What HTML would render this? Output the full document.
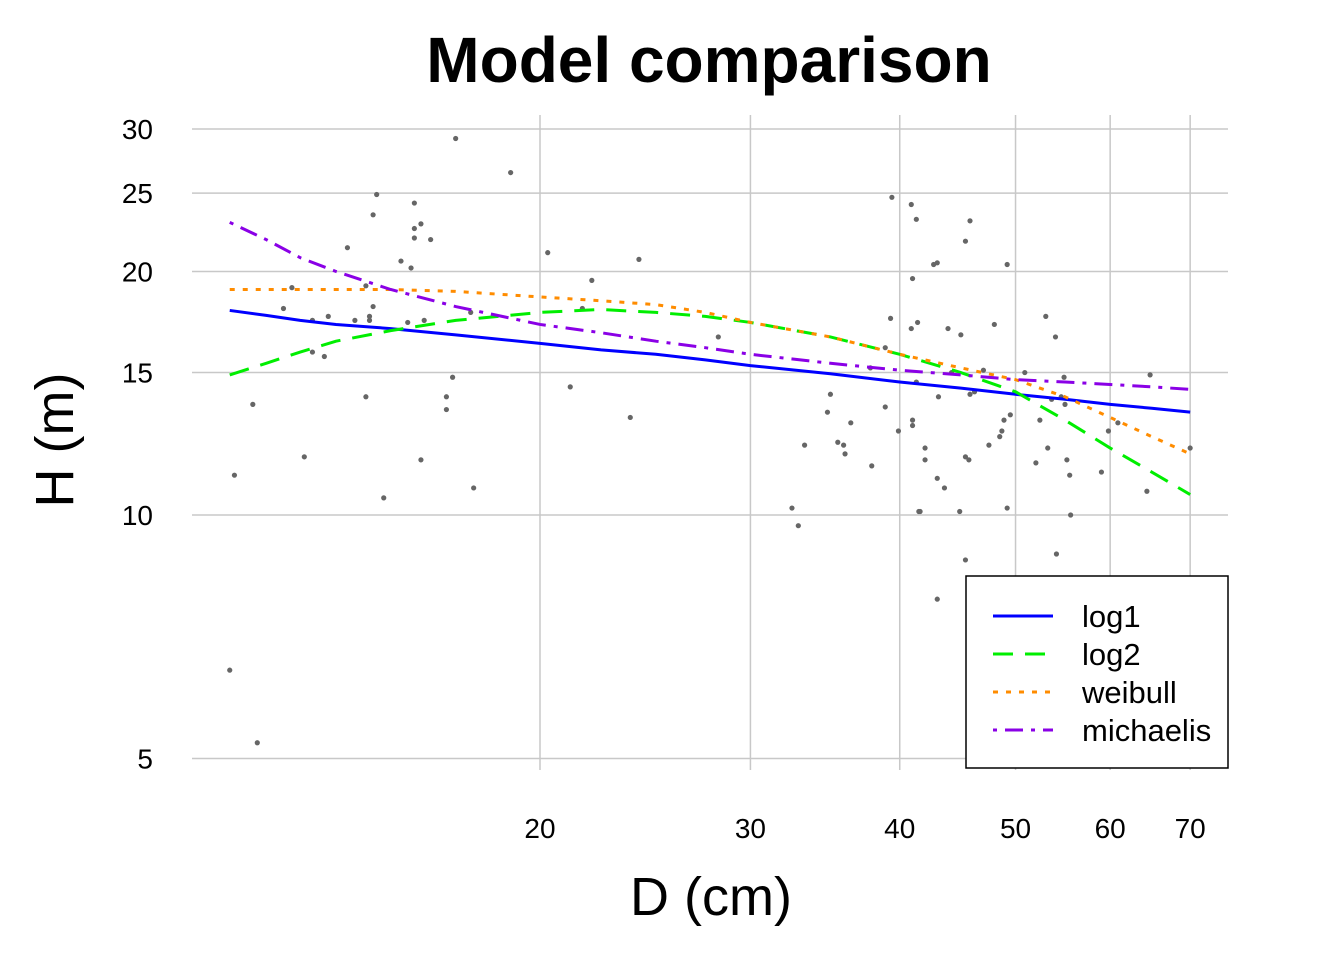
<!DOCTYPE html>
<html><head><meta charset="utf-8"><style>
body{margin:0;background:#fff}
svg text{font-family:"Liberation Sans",Arial,sans-serif}
</style></head><body>
<svg id="chart" width="1344" height="960" xmlns="http://www.w3.org/2000/svg">
<rect width="1344" height="960" fill="#fff"/>
<text x="709" y="82" font-size="64" font-weight="bold" text-anchor="middle">Model comparison</text>
<g id="grid"></g>
<g id="yticks"></g>
<g id="xticks"></g>
<g id="points"></g>
<g id="curves"></g>
<text x="711" y="915" font-size="54" text-anchor="middle">D (cm)</text>
<text transform="translate(73,440) rotate(-90)" font-size="54" text-anchor="middle">H (m)</text>
<g id="legend">
<rect x="966" y="576" width="262" height="192" fill="#fff" stroke="#000" stroke-width="1.5"/>
</g>
</svg>
<script>
const xTicks=[20,30,40,50,60,70];
const yTicks=[5,10,15,20,25,30];
const pointD=[11.0,11.6,11.1,11.5,12.2,12.4,12.7,12.9,12.9,13.2,13.3,13.8,14.0,14.3,14.3,14.4,14.4,14.5,14.5,14.6,14.8,15.3,15.5,15.6,15.7,15.7,15.7,15.9,15.9,16.0,16.2,16.7,16.7,16.9,17.0,17.5,17.6,18.9,20.3,21.2,21.7,22.1,23.8,24.2,28.2,32.5,32.9,33.3,34.8,35.0,35.5,35.9,36.0,36.4,37.8,37.9,38.9,38.9,39.3,39.4,39.9,40.9,40.9,41.0,41.0,41.0,41.3,41.3,41.4,41.5,41.6,42.0,42.0,42.7,43.0,43.0,43.0,43.1,43.6,43.9,44.2,44.9,45.0,45.4,45.4,45.4,45.7,45.8,45.8,46.2,47.0,47.5,48.0,48.5,48.7,48.9,49.2,49.2,49.5,50.9,52.0,52.4,53.0,53.2,53.6,54.0,54.1,54.6,54.9,55.0,55.2,55.5,55.6,59.0,59.8,60.9,64.4,64.8,70.0];
const pointH=[6.43,5.23,11.2,13.7,18.0,19.1,11.8,15.9,17.4,15.7,17.6,21.4,17.4,19.2,14.0,17.4,17.6,18.1,23.5,24.9,10.5,20.6,17.3,20.2,24.3,22.0,22.6,22.9,11.7,17.4,21.9,14.0,13.5,14.8,29.2,17.8,10.8,26.5,21.1,14.4,18.0,19.5,13.2,20.7,16.6,10.2,9.7,12.2,13.4,14.1,12.3,12.2,11.9,13.0,15.2,11.5,13.6,16.1,17.5,24.7,12.7,24.2,17.0,12.9,13.1,19.6,14.6,23.2,17.3,10.1,10.1,12.1,11.7,20.4,20.5,7.87,11.1,14.0,10.8,17.0,15.0,10.1,16.7,11.8,21.8,8.80,11.7,23.1,14.1,14.2,15.1,12.2,17.2,12.5,12.7,13.1,20.4,10.2,13.3,15.0,11.6,13.1,17.6,12.1,13.9,16.6,8.95,14.0,14.8,13.7,11.7,11.2,10.0,11.3,12.7,13.0,10.7,14.9,12.1];
const curveD=[11,11.8,12.6,13.5,15,17,20,22.5,25,27.5,30,35,40,45,50,55,60,65,70];
const log1H=[17.9,17.65,17.4,17.2,17.0,16.7,16.3,16.0,15.8,15.55,15.3,14.95,14.6,14.35,14.1,13.9,13.7,13.55,13.4];
const log2H=[14.9,15.4,15.9,16.4,16.9,17.4,17.8,17.95,17.8,17.6,17.3,16.6,15.8,15.0,14.2,13.1,12.1,11.3,10.6];
const weibullH=[19.0,19.0,19.0,19.0,19.0,18.9,18.6,18.4,18.2,17.8,17.3,16.6,15.8,15.2,14.7,14.0,13.2,12.5,11.9];
const michaelisH=[23.0,21.9,20.8,20.0,19.0,18.1,17.2,16.8,16.4,16.1,15.8,15.4,15.1,14.9,14.7,14.6,14.5,14.4,14.3];
const ns="http://www.w3.org/2000/svg";
const X=d=>540+1195*(Math.log10(d)-Math.log10(20));
const Y=h=>515-809*(Math.log10(h)-1);
function mk(tag,attrs,parent){const e=document.createElementNS(ns,tag);for(const k in attrs)e.setAttribute(k,attrs[k]);document.getElementById(parent).appendChild(e);return e;}
yTicks.forEach(t=>{
 const l=mk('line',{x1:192,x2:1228,y1:Y(t),y2:Y(t),stroke:'#c8c8c8','stroke-width':1.5},'grid');
 
 
 const tx=mk('text',{x:153,y:Y(t)+10,'font-size':28,'text-anchor':'end'},'yticks');tx.textContent=t;
 
 
});
xTicks.forEach(t=>{
 const l=mk('line',{x1:X(t),x2:X(t),y1:115,y2:770,stroke:'#c8c8c8','stroke-width':1.5},'grid');
 
 
 const tx=mk('text',{x:X(t),y:838,'font-size':28,'text-anchor':'middle'},'xticks');tx.textContent=t;
 
 
});
pointD.forEach((d,i)=>{
 const c=mk('circle',{cx:X(d),cy:Y(pointH[i]),r:2.6,fill:'#666'},'points');
 
 
});
const series=[['log1',log1H,'#0000ff','none'],['log2',log2H,'#00ee00','20 12'],['weibull',weibullH,'#ff8c00','5 8'],['michaelis',michaelisH,'#8a00e6','4 8 18 8']];
series.forEach((s,i)=>{
 const p=mk('polyline',{points:curveD.map((d,j)=>X(d)+','+Y(s[1][j])).join(' '),fill:'none',stroke:s[2],'stroke-width':3,'stroke-dasharray':s[3]},'curves');
 
 
 const y=616+i*38;
 const l=mk('line',{x1:993,x2:1053,y1:y,y2:y,stroke:s[2],'stroke-width':3,'stroke-dasharray':s[3]},'legend');
 
 
 const t=mk('text',{x:1082,y:y+11,'font-size':31},'legend');t.textContent=s[0];
 
 
});
</script>
</body></html>
